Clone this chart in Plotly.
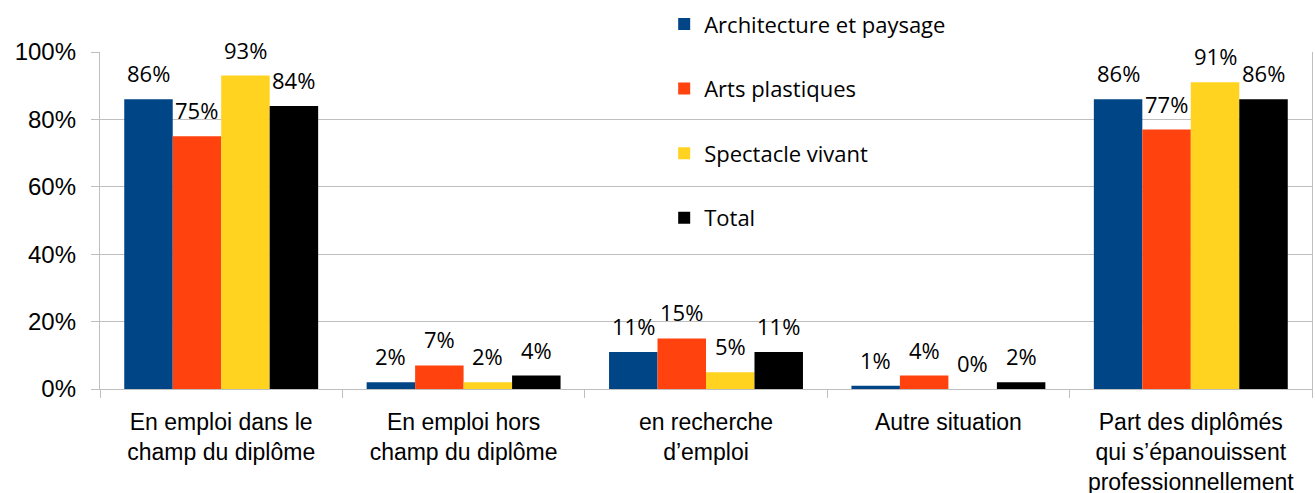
import plotly.graph_objects as go

categories = [
    "En emploi dans le<br>champ du diplôme",
    "En emploi hors<br>champ du diplôme",
    "en recherche<br>d’emploi",
    "Autre situation",
    "Part des diplômés<br>qui s’épanouissent<br>professionnellement",
]
series_names = ["Architecture et paysage", "Arts plastiques", "Spectacle vivant", "Total"]
architecture = [0.86, 0.02, 0.11, 0.01, 0.86]
arts_plastiques = [0.75, 0.07, 0.15, 0.04, 0.77]
spectacle_vivant = [0.93, 0.02, 0.05, 0.00, 0.91]
total = [0.84, 0.04, 0.11, 0.02, 0.86]
y_ticks = [0, 0.2, 0.4, 0.6, 0.8, 1.0]

series_values = [architecture, arts_plastiques, spectacle_vivant, total]
colors = ["#004586", "#FF420E", "#FFD320", "#000000"]

BARGAP = 0.2
LABEL_FONT = "Open Sans"
AXIS_FONT = "Liberation Sans"

fig = go.Figure()
n = len(series_values)
bar_w = (1 - BARGAP) / n
annotations = []
for k, (name, vals, col) in enumerate(zip(series_names, series_values, colors)):
    fig.add_trace(go.Bar(
        x=categories, y=vals, name=name,
        marker=dict(color=col, line=dict(width=0)),
        legendgroup=name,
    ))
    off = -(1 - BARGAP) / 2 + bar_w * (k + 0.5)
    for i, v in enumerate(vals):
        annotations.append(dict(
            x=i + off, y=v, xref="x", yref="y",
            text=f"{round(v * 100)}%", showarrow=False,
            yanchor="bottom", yshift=9,
            font=dict(family=LABEL_FONT, size=22, color="#000000"),
        ))

fig.update_layout(
    width=1315, height=493,
    margin=dict(l=100, r=3, t=52, b=104, autoexpand=False),
    paper_bgcolor="white", plot_bgcolor="white",
    barmode="group", bargap=BARGAP, bargroupgap=0,
    annotations=annotations,
    legend=dict(
        x=0.4655, y=1.145, xanchor="left", yanchor="top",
        bgcolor="rgba(0,0,0,0)",
        font=dict(family=LABEL_FONT, size=22, color="#000000"),
        tracegroupgap=33,
        traceorder="grouped",
    ),
    showlegend=True,
)
fig.update_yaxes(
    range=[0, 1], tickvals=y_ticks, tickformat=".0%",
    showgrid=True, gridcolor="#BFBFBF", gridwidth=1.3,
    showline=True, linecolor="#BFBFBF", linewidth=1.3, mirror=True,
    ticks="outside", ticklen=8, tickcolor="#BFBFBF", tickwidth=1.3,
    tickfont=dict(family=AXIS_FONT, size=24, color="#000000"),
    ticklabelstandoff=10,
    zeroline=False, automargin=False,
)
fig.update_xaxes(
    showline=True, linecolor="#BFBFBF", linewidth=1.3,
    ticks="outside", ticklen=8, tickcolor="#BFBFBF", tickwidth=1.3,
    tickson="boundaries",
    tickfont=dict(family=AXIS_FONT, size=23, color="#000000"),
    ticklabelstandoff=12,
    tickangle=0, automargin=False,
)

post = (
    "document.body.style.margin='0';"
    "document.body.style.overflow='hidden';"
    "var gd=document.getElementById('{plot_id}');"
    "Plotly.relayout(gd,{width:1315,height:493});"
)
fig.write_html("out.html", post_script=post,
               config={"responsive": False, "displayModeBar": False})
